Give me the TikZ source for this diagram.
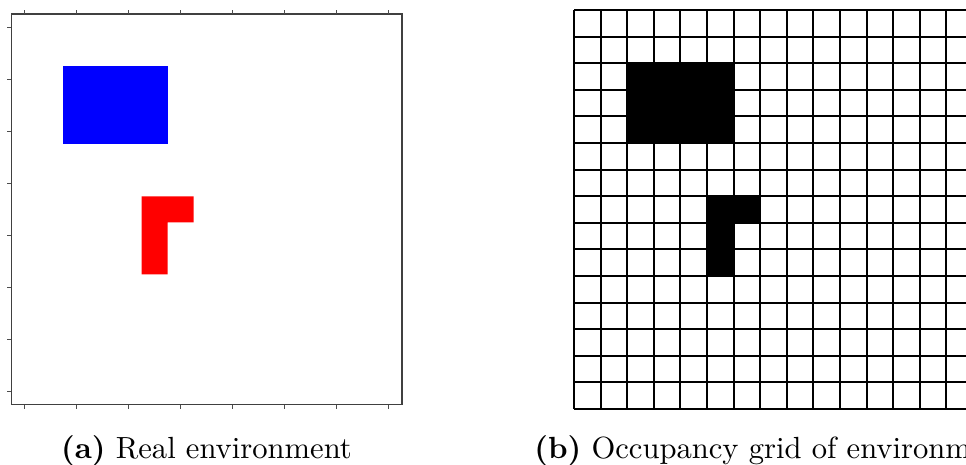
\documentclass[tikz,border=0pt]{standalone}
\begin{document}
\begin{tikzpicture}[x=1pt,y=-1pt,
  axisline/.style={draw=black!75,line width=1.2pt},
  tickline/.style={draw=black!70,line width=1.1pt},
  gridline/.style={draw=black,line width=2pt},
  captxt/.style={scale=3.06,anchor=base,inner sep=0pt}]
\useasboundingbox (0,0) rectangle (966,465);
\clip (0,0) rectangle (966,465);
% ---------- (a) real environment ----------
\begin{scope}[shift={(24.3,391.7)},x=52.09pt,y=52.09pt]
  \fill[blue] (0.75,4.75) rectangle (2.75,6.25);
  \fill[red] (2.25,2.25) -- (2.25,3.75) -- (3.25,3.75) -- (3.25,3.25)
             -- (2.75,3.25) -- (2.75,2.25) -- cycle;
  \draw[axisline] (-0.25,-0.25) rectangle (7.25,7.25);
  \foreach \k in {0,...,7}{
    \draw[tickline] (\k,-0.25) -- ++(0,-0.08);
    \draw[tickline] (\k,7.25) -- ++(0,0.08);
    \draw[tickline] (-0.25,\k) -- ++(-0.08,0);
  }
\end{scope}
\node[captxt] (capa) at (206.5,458) {\textbf{(a)} Real environment};
% ---------- (b) occupancy grid ----------
\begin{scope}[shift={(574,10)},x=26.6pt,y=-26.6pt]
  \fill[black] (2,2) rectangle (6,5);
  \fill[black] (5,7) -- (7,7) -- (7,8) -- (6,8) -- (6,10) -- (5,10) -- cycle;
  \foreach \i in {0,...,15}{
    \draw[gridline] (\i,0) -- (\i,15);
    \draw[gridline] (0,\i) -- (15,\i);
  }
\end{scope}
\node[captxt] (capb) at (773.5,458) {\textbf{(b)} Occupancy grid of environment};
\end{tikzpicture}
\end{document}
